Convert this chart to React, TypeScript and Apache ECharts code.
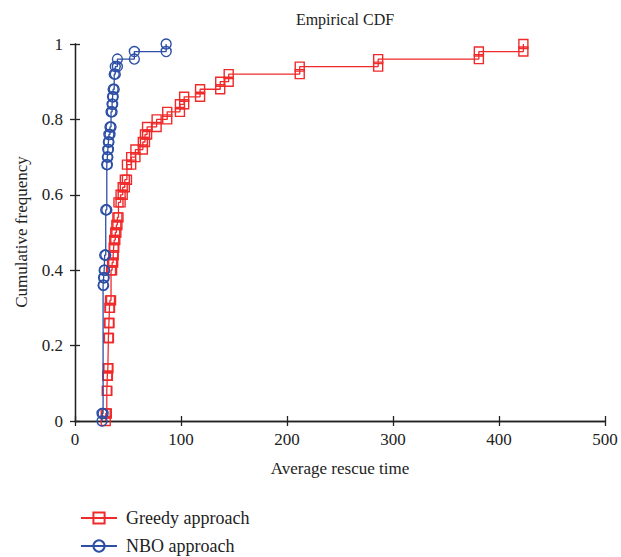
import React, { useEffect, useRef } from "react";
import * as echarts from "echarts";

// Sample values (average rescue time) for each approach, 50 runs each
const greedyTimes = [
  29, 30, 30, 30, 30.5, 30.5, 31, 31.5, 31.5, 31.5, 31.5, 32, 32, 32.5, 32.5, 33,
  34, 34, 34, 34, 35, 36, 36.5, 37, 38, 39, 40, 41, 41, 43, 45, 47, 49, 49, 53,
  57, 64, 66, 68, 77, 87, 99, 103, 118, 137, 145, 212, 286, 381, 423,
];
const nboTimes = [
  25.5,
  26.5, 26.5, 26.5, 26.5, 26.5, 26.5, 26.5, 26.5, 26.5, 26.5, 26.5, 26.5, 26.5, 26.5, 26.5, 26.5, 26.5,
  27, 27.5, 28, 28, 29, 29, 29, 29, 29, 29, 30, 30, 30, 30, 30, 30, 30.5, 31, 31.5, 32, 33,
  34, 34, 35, 35.5, 36, 37, 37, 38, 40, 56, 86,
];
const xTicks = [0, 100, 200, 300, 400, 500];
const yTicks = [0, 0.2, 0.4, 0.6, 0.8, 1];
const seriesNames = ["Greedy approach", "NBO approach"];

// Empirical CDF stair vertices (marker at every corner, as in MATLAB cdfplot)
function ecdfVertices(samples: number[]): number[][] {
  const s = [...samples].sort((a, b) => a - b);
  const n = s.length;
  const pts: number[][] = [];
  let i = 0;
  while (i < n) {
    let j = i;
    while (j < n && s[j] === s[i]) j++;
    pts.push([s[i], i / n]);
    pts.push([s[i], j / n]);
    i = j;
  }
  return pts;
}

const RED = "#f02a2a";
const BLUE = "#2d4fa5";
const FONT = "'Liberation Serif', 'DejaVu Serif', serif";
const INK = "#222222";

export default function App() {
  const ref = useRef<HTMLDivElement>(null);
  useEffect(() => {
    if (!ref.current) return;
    const chart = echarts.init(ref.current, null, { renderer: "svg" });
    const axisLine = { show: true, lineStyle: { color: INK, width: 1.3 } };
    const tickStyle = { show: true, inside: true, length: 5, lineStyle: { color: INK, width: 1.3 } };
    const legendBase = {
      orient: "vertical",
      left: 75,
      itemWidth: 36,
      itemHeight: 14,
      textStyle: { fontFamily: FONT, fontSize: 18, color: INK, padding: [0, 0, 0, 4] },
    };
    chart.setOption({
      animation: false,
      backgroundColor: "#fff",
      textStyle: { fontFamily: FONT, color: INK },
      title: {
        text: "Empirical CDF",
        left: 340,
        textAlign: "center",
        top: 6,
        textStyle: { fontFamily: FONT, fontSize: 16, fontWeight: "normal", color: INK },
      },
      grid: { left: 75, right: 16, top: 44, bottom: 136 },
      legend: [
        { ...legendBase, top: 504, data: [seriesNames[0]] },
        { ...legendBase, top: 532, data: [seriesNames[1]] },
      ],
      graphic: [
        {
          type: "text",
          x: 21,
          y: 232,
          rotation: Math.PI / 2,
          style: {
            text: "Cumulative frequency",
            fontFamily: FONT,
            fontSize: 17,
            fill: INK,
            align: "center",
            verticalAlign: "middle",
          },
        },
      ],
      xAxis: [
        {
          type: "value",
          min: xTicks[0],
          max: xTicks[xTicks.length - 1],
          interval: xTicks[1] - xTicks[0],
          name: "Average rescue time",
          nameLocation: "middle",
          nameGap: 39,
          nameTextStyle: { fontFamily: FONT, fontSize: 17, color: INK },
          axisLine,
          axisTick: tickStyle,
          axisLabel: { fontFamily: FONT, fontSize: 17, color: INK, margin: 10 },
          splitLine: { show: false },
        },
        {
          type: "value",
          position: "top",
          min: xTicks[0],
          max: xTicks[xTicks.length - 1],
          interval: xTicks[1] - xTicks[0],
          axisLine,
          axisTick: tickStyle,
          axisLabel: { show: false },
          splitLine: { show: false },
        },
      ],
      yAxis: [
        {
          type: "value",
          min: yTicks[0],
          max: yTicks[yTicks.length - 1],
          interval: yTicks[1] - yTicks[0],
          axisLine,
          axisTick: tickStyle,
          axisLabel: {
            fontFamily: FONT,
            fontSize: 17,
            color: INK,
            margin: 12,
            formatter: (v: number) => String(Math.round(v * 10) / 10),
          },
          splitLine: { show: false },
        },
        {
          type: "value",
          position: "right",
          min: yTicks[0],
          max: yTicks[yTicks.length - 1],
          interval: yTicks[1] - yTicks[0],
          axisLine,
          axisTick: tickStyle,
          axisLabel: { show: false },
          splitLine: { show: false },
        },
      ],
      series: [
        {
          name: seriesNames[0],
          type: "line",
          xAxisIndex: 0,
          yAxisIndex: 0,
          data: ecdfVertices(greedyTimes),
          symbol: "rect",
          symbolSize: 9,
          showAllSymbol: true,
          lineStyle: { color: RED, width: 1.3 },
          itemStyle: { color: "rgba(255,255,255,0)", borderColor: RED, borderWidth: 1.4 },
          emphasis: { disabled: true },
          z: 3,
        },
        {
          name: seriesNames[1],
          type: "line",
          xAxisIndex: 0,
          yAxisIndex: 0,
          data: ecdfVertices(nboTimes),
          symbol: "circle",
          symbolSize: 10,
          showAllSymbol: true,
          lineStyle: { color: BLUE, width: 1.3 },
          itemStyle: { color: "rgba(255,255,255,0)", borderColor: BLUE, borderWidth: 1.4 },
          emphasis: { disabled: true },
          z: 4,
        },
      ],
    });
    return () => chart.dispose();
  }, []);
  return <div ref={ref} style={{ width: 621, height: 557, position: "absolute", left: 0, top: 0 }} />;
}
